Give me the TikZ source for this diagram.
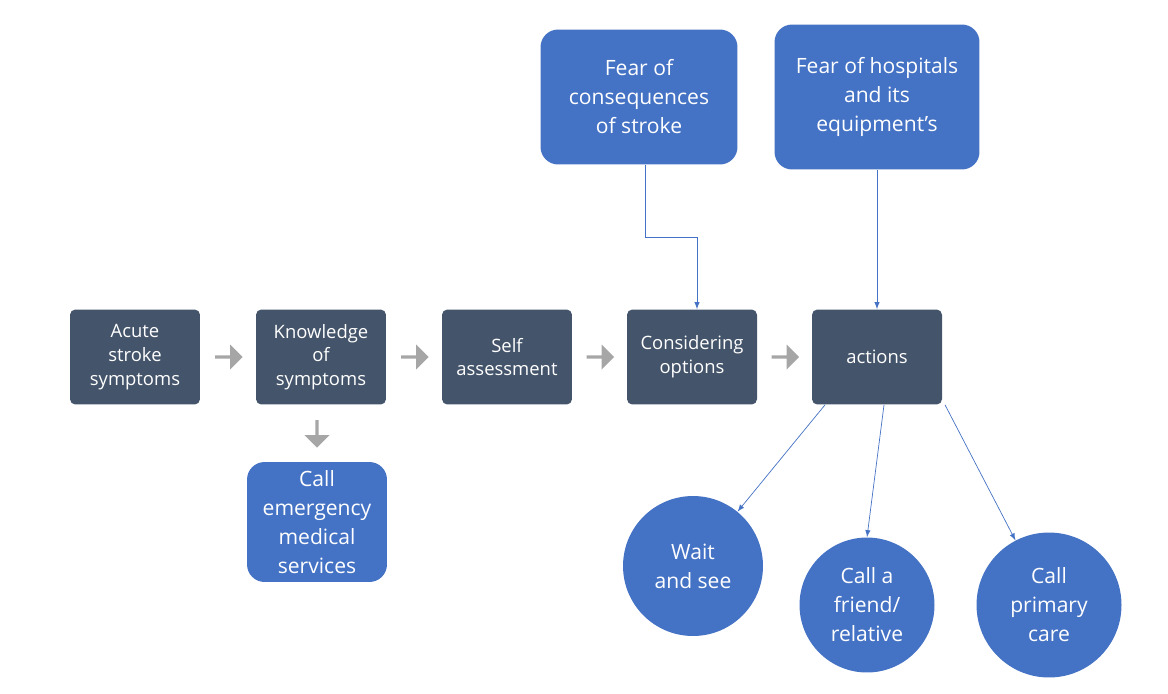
\documentclass[tikz,border=0pt]{standalone}
\usepackage{fontspec}
\setmainfont{Open Sans}
\usetikzlibrary{shapes.arrows,calc}
\definecolor{slate}{HTML}{44546A}
\definecolor{boxblue}{HTML}{4472C4}
\definecolor{arrgray}{HTML}{A6A6A6}
\tikzset{
  stage/.style={rectangle,rounded corners=3pt,fill=slate,text=white,minimum width=2.6cm,
    minimum height=1.9cm,align=center,font=\fontsize{10.5}{13.5}\selectfont},
  factor/.style={rectangle,rounded corners=10pt,fill=boxblue,text=white,align=center,
    font=\fontsize{12}{16.5}\selectfont},
  outcome/.style={circle,fill=boxblue,text=white,align=center,inner sep=0pt,
    font=\fontsize{12}{16.5}\selectfont},
  flow/.style={single arrow,fill=arrgray,minimum width=0.5cm,single arrow head extend=0.05cm,
    minimum height=0.55cm,inner sep=0pt},
  link/.style={draw=boxblue,thin,-latex}
}
\begin{document}
\begin{tikzpicture}[x=0.02cm,y=-0.02cm]
	\useasboundingbox (0,0) rectangle (1168,693);
	
	\node[stage] (acute) at (135,357) {Acute\\stroke\\symptoms};
	\node[stage] (know) at (321,357) {Knowledge\\of\\symptoms};
	\node[stage] (self) at (507,357) {Self\\assessment};
	\node[stage] (cons) at (692,357) {Considering\\options};
	\node[stage] (act) at (877,357) {actions};
	
	\foreach \a/\b in {acute/know,know/self,self/cons,cons/act}
		\node[flow] at ($(\a.east)!0.5!(\b.west)$) {};
	\node[flow,rotate=-90] at (317,433) {};
	
	\node[factor,minimum width=2.8cm,minimum height=2.4cm] (ems) at (317,522) {Call\\emergency\\medical\\services};
	\node[factor,minimum width=3.94cm,minimum height=2.7cm] (fearc) at (639,97) {Fear of\\consequences\\of stroke};
	\node[factor,minimum width=4.1cm,minimum height=2.9cm] (fearh) at (877,97) {Fear of hospitals\\and its\\equipment's};
	
	\node[outcome,minimum size=2.8cm] (wait) at (693,566) {Wait\\and see};
	\node[outcome,minimum size=2.7cm] (friend) at (867,605) {Call a\\friend/\\relative};
	\node[outcome,minimum size=2.9cm] (prim) at (1049,605) {Call\\primary\\care};
	
	\draw[link] (fearc.south -| 645,0) |- (697,237) -- (cons.north -| 697,0);
	\draw[link] (fearh.south) -- (act.north);
	\draw[link] (act.south -| 825,0) -- (wait);
	\draw[link] (act.south -| 884,0) -- (friend.north);
	\draw[link] (act.south -| 945,0) -- (prim);
\end{tikzpicture}
\end{document}
